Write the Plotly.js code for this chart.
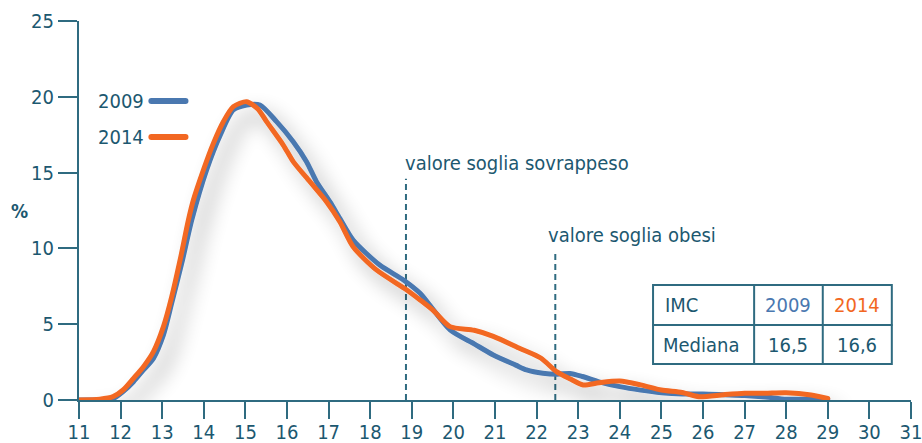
<!DOCTYPE html>
<html>
<head>
<meta charset="utf-8">
<script src="https://cdn.plot.ly/plotly-3.0.1.min.js"></script>
<style>html,body{margin:0;padding:0;background:#fff;}#chart{width:922px;height:443px;}</style>
</head>
<body>
<div id="chart"></div>
<script>
// ---- data ----
const x2009 = [11, 11.5, 11.8, 12.06, 12.31, 12.55, 12.79, 13.03, 13.23, 13.47, 13.71, 14.07, 14.4, 14.71, 15.03, 15.35, 15.75, 16.15, 16.47, 16.71, 17.03, 17.27, 17.59, 18.23, 18.8, 19.2, 19.92, 20.5, 20.96, 21.5, 21.76, 22.15, 22.5, 22.8, 23.1, 23.5, 24, 24.5, 25, 25.5, 26, 26.5, 27, 27.5, 28, 28.5, 29];
const y2009 = [0, 0, 0.05, 0.55, 1.21, 1.98, 2.75, 4.29, 6.4, 9.02, 11.87, 15.2, 17.5, 19.13, 19.46, 19.46, 18.36, 17.04, 15.72, 14.4, 13.08, 11.98, 10.55, 8.9, 7.92, 7.04, 4.62, 3.7, 2.97, 2.3, 1.98, 1.76, 1.7, 1.75, 1.55, 1.2, 0.88, 0.65, 0.48, 0.4, 0.4, 0.35, 0.3, 0.2, 0.05, 0.05, 0.05];
const x2014 = [11, 11.5, 11.82, 12.06, 12.31, 12.55, 12.79, 13.03, 13.23, 13.43, 13.63, 13.75, 13.99, 14.23, 14.47, 14.71, 15.03, 15.3, 15.51, 15.91, 16.15, 16.55, 16.95, 17.27, 17.59, 18.15, 18.88, 19.2, 19.52, 19.92, 20.5, 20.96, 21.6, 22.1, 22.48, 22.8, 23.12, 23.5, 24, 24.5, 25, 25.5, 25.9, 26.5, 27, 27.5, 28, 28.6, 29];
const y2014 = [0, 0.05, 0.22, 0.66, 1.43, 2.2, 3.19, 4.84, 6.82, 9.23, 11.87, 13.19, 15.17, 16.93, 18.36, 19.35, 19.68, 19.2, 18.36, 16.82, 15.72, 14.4, 13.08, 11.76, 10.11, 8.58, 7.26, 6.6, 5.9, 4.84, 4.6, 4.2, 3.4, 2.77, 1.87, 1.4, 0.99, 1.14, 1.25, 1.0, 0.66, 0.5, 0.22, 0.35, 0.44, 0.45, 0.48, 0.33, 0.1];
const seriesNames = ['2009', '2014'];
const xTicks = [11,12,13,14,15,16,17,18,19,20,21,22,23,24,25,26,27,28,29,30,31];
const yTicks = [0, 5, 10, 15, 20, 25];
const thresholds = [18.86, 22.45];
const thresholdLabels = ['valore soglia sovrappeso', 'valore soglia obesi'];
const tableHeader = ['IMC', '2009', '2014'];
const tableRow = ['Mediana', '16,5', '16,6'];

// ---- styles ----
const BLUE = '#4a78b0', ORANGE = '#f26722', TEAL = '#1c5870', LINE = '#2f6b80';
const FONT = 'Liberation Sans Narrow, DejaVu Sans Condensed, Roboto Condensed, Arial Narrow, Roboto, sans-serif';

const traces = [
  {x: x2009, y: y2009, name: seriesNames[0], mode: 'lines', line: {color: BLUE, width: 5, shape: 'spline', smoothing: 0.7}, cliponaxis: false, hoverinfo: 'skip'},
  {x: x2014, y: y2014, name: seriesNames[1], mode: 'lines', line: {color: ORANGE, width: 5, shape: 'spline', smoothing: 0.7}, cliponaxis: false, hoverinfo: 'skip'}
];

const shapes = [];
const annotations = [];
const thrTop = [14.6, 9.9];
thresholds.forEach((t, i) => {
  shapes.push({type: 'line', xref: 'x', yref: 'y', x0: t, x1: t, y0: 0, y1: thrTop[i], line: {color: LINE, width: 2, dash: '6px,4px'}, layer: 'below'});
});
annotations.push({xref: 'x', yref: 'y', x: 18.78, y: 15.63, xanchor: 'left', yanchor: 'middle', text: thresholdLabels[0], showarrow: false, font: {family: FONT, size: 20, color: TEAL}});
annotations.push({xref: 'x', yref: 'y', x: 22.22, y: 10.88, xanchor: 'left', yanchor: 'middle', text: thresholdLabels[1], showarrow: false, font: {family: FONT, size: 20, color: TEAL}});

// legend (text left of line)
const legY = [19.72, 17.35];
[BLUE, ORANGE].forEach((c, i) => {
  shapes.push({type: 'line', xref: 'x', yref: 'y', x0: 12.74, x1: 13.56, y0: legY[i], y1: legY[i], line: {color: c, width: 6}});
  annotations.push({xref: 'x', yref: 'y', x: 12.6, y: legY[i], xanchor: 'right', yanchor: 'middle', text: seriesNames[i], showarrow: false, font: {family: FONT, size: 20, color: TEAL}});
});

// table
const tx = [24.80, 27.23, 28.88, 30.54];
const ty = [7.59, 4.95, 2.37];
shapes.push({type: 'rect', xref: 'x', yref: 'y', x0: tx[0], x1: tx[3], y0: ty[2], y1: ty[0], line: {color: LINE, width: 2}, fillcolor: 'rgba(255,255,255,1)'});
shapes.push({type: 'line', xref: 'x', yref: 'y', x0: tx[0], x1: tx[3], y0: ty[1], y1: ty[1], line: {color: LINE, width: 2}});
shapes.push({type: 'line', xref: 'x', yref: 'y', x0: tx[1], x1: tx[1], y0: ty[2], y1: ty[0], line: {color: LINE, width: 2}});
shapes.push({type: 'line', xref: 'x', yref: 'y', x0: tx[2], x1: tx[2], y0: ty[2], y1: ty[0], line: {color: LINE, width: 2}});
const rowMid = [(ty[0] + ty[1]) / 2, (ty[1] + ty[2]) / 2];
const colMid = [(tx[1] + tx[2]) / 2, (tx[2] + tx[3]) / 2];
annotations.push({xref: 'x', yref: 'y', x: tx[0] + 0.24, y: rowMid[0], xanchor: 'left', yanchor: 'middle', text: tableHeader[0], showarrow: false, font: {family: FONT, size: 20, color: TEAL}});
annotations.push({xref: 'x', yref: 'y', x: colMid[0], y: rowMid[0], xanchor: 'center', yanchor: 'middle', text: tableHeader[1], showarrow: false, font: {family: FONT, size: 20, color: BLUE}});
annotations.push({xref: 'x', yref: 'y', x: colMid[1], y: rowMid[0], xanchor: 'center', yanchor: 'middle', text: tableHeader[2], showarrow: false, font: {family: FONT, size: 20, color: ORANGE}});
annotations.push({xref: 'x', yref: 'y', x: tx[0] + 0.18, y: rowMid[1], xanchor: 'left', yanchor: 'middle', text: tableRow[0], showarrow: false, font: {family: FONT, size: 20, color: TEAL}});
annotations.push({xref: 'x', yref: 'y', x: colMid[0], y: rowMid[1], xanchor: 'center', yanchor: 'middle', text: tableRow[1], showarrow: false, font: {family: FONT, size: 20, color: TEAL}});
annotations.push({xref: 'x', yref: 'y', x: colMid[1], y: rowMid[1], xanchor: 'center', yanchor: 'middle', text: tableRow[2], showarrow: false, font: {family: FONT, size: 20, color: TEAL}});
annotations.push({xref: 'paper', yref: 'paper', x: -0.072, y: 0.50, xanchor: 'center', yanchor: 'middle', text: '<b>%</b>', showarrow: false, font: {family: FONT, size: 19, color: TEAL}});

const layout = {
  width: 922, height: 443,
  margin: {l: 79, r: 11, t: 21, b: 43, pad: 0},
  paper_bgcolor: '#fff', plot_bgcolor: 'rgba(0,0,0,0)',
  showlegend: false,
  font: {family: FONT, size: 20, color: TEAL},
  xaxis: {range: [11, 31.001], tickmode: 'array', tickvals: xTicks, ticktext: xTicks.map(String), ticks: 'outside', ticklen: 17, tickwidth: 2, tickcolor: LINE,
          ticklabelstandoff: -4, ticklabeloverflow: 'allow',
          showline: true, linecolor: LINE, linewidth: 2, showgrid: false, zeroline: false, fixedrange: true,
          tickfont: {family: FONT, size: 20, color: TEAL}},
  yaxis: {range: [0, 25], tickmode: 'array', tickvals: yTicks, ticktext: yTicks.map(String), ticks: 'outside', ticklen: 19, tickwidth: 2, tickcolor: LINE,
          showline: true, linecolor: LINE, linewidth: 2, showgrid: false, zeroline: false, fixedrange: true,
          tickfont: {family: FONT, size: 20, color: TEAL}},
  shapes: shapes,
  annotations: annotations
};

Plotly.newPlot('chart', traces, layout, {staticPlot: true, displayModeBar: false}).then(gd => {
  const svg = gd.querySelector('svg.main-svg');
  const NS = 'http://www.w3.org/2000/svg';
  let defs = svg.querySelector('defs');
  if (!defs) { defs = document.createElementNS(NS, 'defs'); svg.insertBefore(defs, svg.firstChild); }
  const f = document.createElementNS(NS, 'filter');
  f.setAttribute('id', 'softshadow');
  f.setAttribute('x', '-20%'); f.setAttribute('y', '-20%'); f.setAttribute('width', '150%'); f.setAttribute('height', '150%');
  f.innerHTML = '<feGaussianBlur in="SourceAlpha" stdDeviation="10"/>' +
                '<feOffset dx="10" dy="12" result="ob"/>' +
                '<feComponentTransfer><feFuncA type="linear" slope="0.3"/></feComponentTransfer>' +
                '<feMerge><feMergeNode/><feMergeNode in="SourceGraphic"/></feMerge>';
  defs.appendChild(f);
  gd.querySelectorAll('.scatterlayer').forEach(g => g.setAttribute('filter', 'url(#softshadow)'));
  gd.querySelectorAll('.scatterlayer path.js-line').forEach(p => { p.style.strokeLinecap = 'round'; p.style.strokeLinejoin = 'round'; });
  gd.querySelectorAll('.shapelayer path').forEach(p => { p.style.strokeLinecap = p.style.strokeDasharray ? 'butt' : 'round'; });
});
</script>
</body>
</html>
